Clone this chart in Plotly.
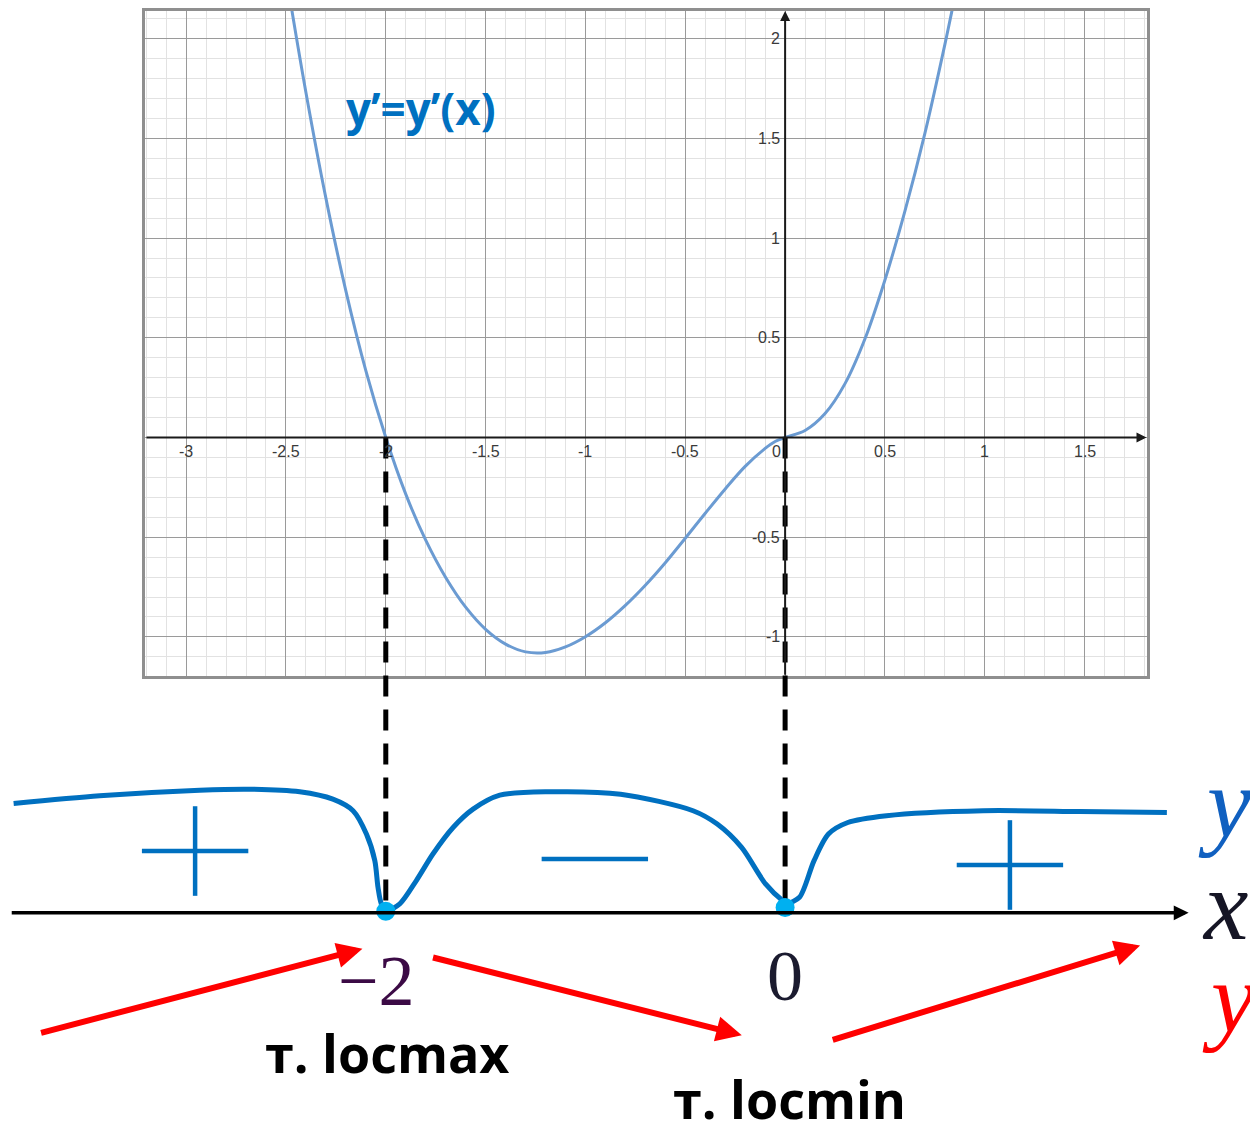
import plotly.graph_objects as go

# y'(x) curve
curve_x = [-2.48, -2.4, -2.3, -2.2, -2.1, -2.0, -1.9, -1.8, -1.7, -1.6,
           -1.5, -1.4, -1.3, -1.2, -1.1, -1.0, -0.9, -0.8, -0.7, -0.6,
           -0.5, -0.4, -0.3, -0.2, -0.1, -0.05, 0.0, 0.1, 0.2, 0.3,
           0.4, 0.5, 0.6, 0.7, 0.8, 0.85]
curve_y = [2.2, 1.73, 1.2, 0.735, 0.335, 0.0, -0.284, -0.515, -0.702, -0.851,
           -0.962, -1.036, -1.075, -1.078, -1.05, -0.999, -0.929, -0.842, -0.741, -0.628,
           -0.505, -0.38, -0.258, -0.145, -0.055, -0.02, 0.0, 0.035, 0.12, 0.27,
           0.495, 0.79, 1.135, 1.525, 1.97, 2.21]

x_ticks = [-3, -2.5, -2, -1.5, -1, -0.5, 0, 0.5, 1, 1.5]
x_tick_labels = ["-3", "-2.5", "-2", "-1.5", "-1", "-0.5", "0", "0.5", "1", "1.5"]
y_ticks = [-1, -0.5, 0.5, 1, 1.5, 2]
y_tick_labels = ["-1", "-0.5", "0.5", "1", "1.5", "2"]

# sign scheme under the graph (hand drawn sketch of y')
roots = [-2, 0]
sketch_x = [-3.864, -3.433, -2.932, -2.682, -2.431, -2.265, -2.164, -2.097, -2.055, -2.039,
            -2.022, -1.995, -1.930, -1.847, -1.764, -1.663, -1.563, -1.429, -1.179, -0.824,
            -0.461, -0.340, -0.218, -0.098, -0.013, 0.01, 0.072, 0.145, 0.217, 0.314,
            0.508, 0.992, 1.476, 1.912]
sketch_y = [0.548, 0.587, 0.615, 0.62, 0.607, 0.57, 0.512, 0.395, 0.262, 0.128,
            0.045, 0.012, 0.045, 0.162, 0.295, 0.428, 0.52, 0.59, 0.607, 0.595,
            0.512, 0.445, 0.328, 0.145, 0.062, 0.048, 0.078, 0.262, 0.395, 0.453,
            0.487, 0.512, 0.508, 0.503]
sign_x = [-2.955, -0.953, 1.126]
sign_y = [0.31, 0.27, 0.24]
signs = ["+", "-", "+"]

# page has an 8px body margin, so the figure is drawn 8px smaller and shifted
OFF = 8
W, H = 1258 - OFF, 1122 - OFF
X_RANGE = [-3.206, 1.81]
Y_RANGE = [-1.197, 2.1385]
X_DOM = [(145 - OFF) / W, (1146.5 - OFF) / W]
Y_DOM = [1 - (675 - OFF) / H, 1.0]

# bottom scheme shares the horizontal scale of the graph
ppu = (X_DOM[1] - X_DOM[0]) * W / (X_RANGE[1] - X_RANGE[0])
x0_px = X_DOM[0] * W - X_RANGE[0] * ppu
X2_RANGE = [-x0_px / ppu, (W - x0_px) / ppu]
axis_px = 912.3 - OFF
Y2_RANGE = [-(H - axis_px) / 200, axis_px / 200]

# height of the graph's zero line in scheme units
zero_paper = Y_DOM[0] + (0 - Y_RANGE[0]) / (Y_RANGE[1] - Y_RANGE[0]) * (Y_DOM[1] - Y_DOM[0])
zero_y2 = Y2_RANGE[0] + zero_paper * (Y2_RANGE[1] - Y2_RANGE[0])

BLUE = "#0070C0"
fig = go.Figure()
fig.add_trace(go.Scatter(x=curve_x, y=curve_y, mode="lines",
                         line=dict(color="#6b9bd2", width=3, shape="spline", smoothing=1.0),
                         xaxis="x", yaxis="y"))

# dashed links from the roots to the scheme
dx, dy = [], []
for r in roots:
    dx += [r, r, None]
    dy += [zero_y2, 0, None]
fig.add_trace(go.Scatter(x=dx, y=dy, mode="lines",
                         line=dict(color="black", width=5, dash="21px,13px"),
                         xaxis="x2", yaxis="y2"))
fig.add_trace(go.Scatter(x=sketch_x, y=sketch_y, mode="lines",
                         line=dict(color=BLUE, width=5, shape="spline", smoothing=0.8),
                         xaxis="x2", yaxis="y2"))
fig.add_trace(go.Scatter(x=roots, y=[0.008, 0.027], mode="markers",
                         marker=dict(color="#00B0F0", size=19),
                         xaxis="x2", yaxis="y2"))
fig.add_trace(go.Scatter(x=sign_x, y=sign_y, mode="markers",
                         marker=dict(symbol="line-ew", size=76, line=dict(width=4.5, color=BLUE)),
                         xaxis="x2", yaxis="y2"))
plus_x = [sx for sx, s in zip(sign_x, signs) if s == "+"]
plus_y = [sy for sy, s in zip(sign_y, signs) if s == "+"]
fig.add_trace(go.Scatter(x=plus_x, y=plus_y, mode="markers",
                         marker=dict(symbol="line-ns", size=64, line=dict(width=4.5, color=BLUE)),
                         xaxis="x2", yaxis="y2"))

tick_font = dict(family="Liberation Sans", size=16, color="#3a3a3a")
ann = []
for v, lab in zip(x_ticks, x_tick_labels):
    ann.append(dict(x=v, y=0, xref="x", yref="y", text=lab, showarrow=False,
                    yshift=-14, xshift=-9 if v == 0 else 0, font=tick_font))
for v, lab in zip(y_ticks, y_tick_labels):
    ann.append(dict(x=0, y=v, xref="x", yref="y", text=lab, showarrow=False,
                    xanchor="right", xshift=-3, font=tick_font))
# axes with arrows
ann.append(dict(x=X_RANGE[1], y=0, ax=X_RANGE[0], ay=0, xref="x", yref="y", axref="x", ayref="y",
                text="", showarrow=True, arrowhead=2, arrowsize=1, arrowwidth=2, arrowcolor="#1a1a1a"))
ann.append(dict(x=0, y=Y_RANGE[1], ax=0, ay=Y_RANGE[0], xref="x", yref="y", axref="x", ayref="y",
                text="", showarrow=True, arrowhead=2, arrowsize=1, arrowwidth=2, arrowcolor="#1a1a1a"))
ann.append(dict(x=-1.822, y=1.65, xref="x", yref="y", text="y’=y’(x)", showarrow=False,
                font=dict(family="Open Sans", size=44, color=BLUE, weight="bold")))

# scheme axis
ann.append(dict(x=2.021, y=0, ax=-3.881, ay=0, xref="x2", yref="y2", axref="x2", ayref="y2",
                text="", showarrow=True, arrowhead=2, arrowsize=0.85, arrowwidth=3.5, arrowcolor="black"))
serif = "Liberation Serif"
ann.append(dict(x=-2, y=-0.344, xref="x2", yref="y2", xshift=-9, text="−2", showarrow=False,
                font=dict(family=serif, size=72, color="#3B0A45")))
ann.append(dict(x=0, y=-0.314, xref="x2", yref="y2", text="0", showarrow=False,
                font=dict(family=serif, size=72, color="#1b1b2f")))
ann.append(dict(x=2.06, y=0.55, xref="x2", yref="y2", xanchor="left", text="<i>y’</i>", showarrow=False,
                font=dict(family=serif, size=100, color="#1060C0")))
ann.append(dict(x=2.08, y=0.037, xref="x2", yref="y2", xanchor="left", text="<i>x</i>", showarrow=False,
                font=dict(family=serif, size=100, color="#151525")))
ann.append(dict(x=2.08, y=-0.43, xref="x2", yref="y2", xanchor="left", text="<i>y</i>", showarrow=False,
                font=dict(family=serif, size=100, color="#ff0000")))
bold = dict(family="Open Sans", size=52, color="black", weight="bold")
ann.append(dict(x=-1.996, y=-0.701, xref="x2", yref="y2", text="т. locmax", showarrow=False, font=bold))
ann.append(dict(x=0.024, y=-0.93, xref="x2", yref="y2", text="т. locmin", showarrow=False, font=bold))

# red arrows: increase / decrease of y
arrows = [((-3.734, -0.6035), (-2.117, -0.18)),
          ((-1.771, -0.222), (-0.217, -0.6135)),
          ((0.231, -0.6385), (1.778, -0.1635))]
for (tx, ty), (hx, hy) in arrows:
    ann.append(dict(x=hx, y=hy, ax=tx, ay=ty, xref="x2", yref="y2", axref="x2", ayref="y2",
                    text="", showarrow=True, arrowhead=2, arrowsize=0.85, arrowwidth=6,
                    arrowcolor="#ff0000"))

grid_axis = dict(showgrid=True, gridcolor="#9a9a9a", gridwidth=1, dtick=0.5, tick0=0,
                 minor=dict(dtick=0.1, tick0=0, showgrid=True, gridcolor="#e2e2e2", gridwidth=1),
                 showticklabels=False, ticks="", zeroline=False,
                 showline=True, mirror=True, linecolor="#8f8f8f", linewidth=3, fixedrange=True)

fig.update_layout(
    width=W, height=H, autosize=False,
    margin=dict(l=0, r=0, t=0, b=0),
    paper_bgcolor="white", plot_bgcolor="rgba(0,0,0,0)",
    showlegend=False, hovermode=False,
    xaxis=dict(grid_axis, domain=X_DOM, range=X_RANGE, anchor="y"),
    yaxis=dict(grid_axis, domain=Y_DOM, range=Y_RANGE, anchor="x"),
    xaxis2=dict(domain=[0, 1], range=X2_RANGE, anchor="y2", visible=False, fixedrange=True),
    yaxis2=dict(domain=[0, 1], range=Y2_RANGE, anchor="x2", visible=False, fixedrange=True),
    annotations=ann,
)

fig.write_html("out.html")
